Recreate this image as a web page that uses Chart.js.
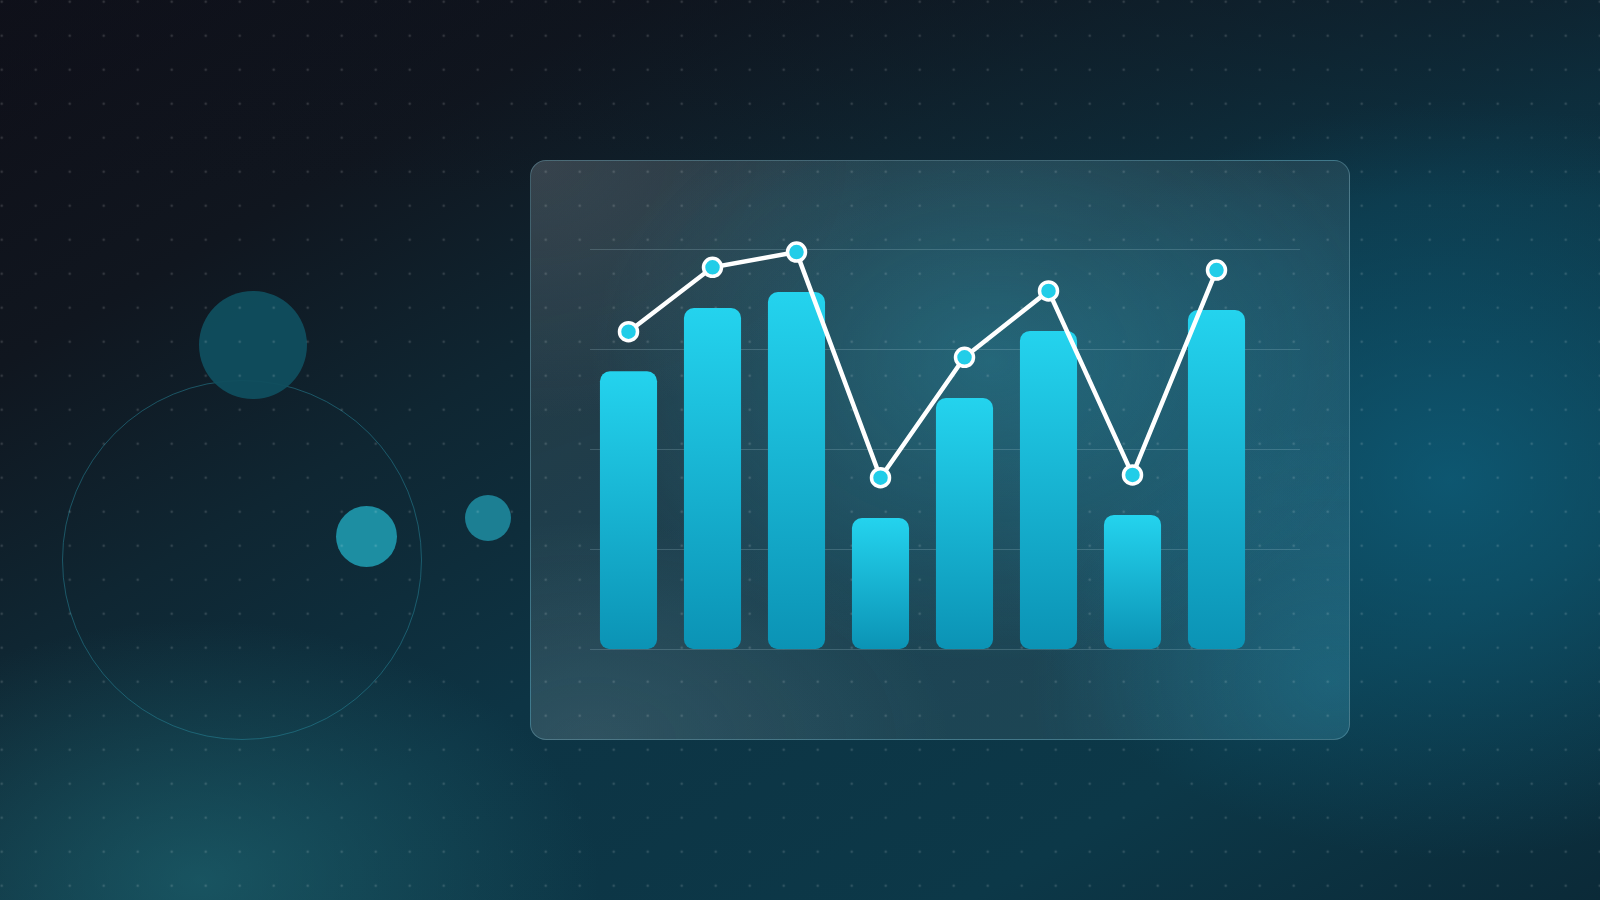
<!DOCTYPE html>
<html>
<head>
<meta charset="utf-8">
<script src="https://cdn.jsdelivr.net/npm/chart.js@4.4.1/dist/chart.umd.min.js"></script>
<style>
    html, body {
        margin: 0;
        padding: 0;
        width: 1600px;
        height: 900px;
        overflow: hidden;
    }
    body {
        position: relative;
        background:
            radial-gradient(ellipse 400px 260px at 200px 880px, rgba(34, 110, 120, 0.55), transparent 100%),
            linear-gradient(180deg, rgba(14, 18, 28, 0.4) 0%, rgba(14, 18, 28, 0) 22%),
            radial-gradient(ellipse 460px 380px at 1450px 480px, rgba(14, 100, 130, 0.7), transparent 100%),
            linear-gradient(150deg, #0f0f18 0%, #10161f 20%, #0f2632 36%, #0d3444 55%, #0c3848 80%, #0b2a38 100%);
    }
    .ring {
        position: absolute;
        left: 61.5px;
        top: 380px;
        width: 360px;
        height: 360px;
        border-radius: 50%;
        border: 1.5px solid rgba(40, 140, 160, 0.5);
        box-sizing: border-box;
    }
    .blob {
        position: absolute;
        border-radius: 50%;
    }
    .card {
        position: absolute;
        left: 530px;
        top: 160px;
        width: 820px;
        height: 580px;
        box-sizing: border-box;
        border-radius: 16px;
        border: 1.5px solid rgba(130, 190, 205, 0.35);
        background:
            radial-gradient(ellipse 400px 300px at 460px 200px, rgba(45, 155, 180, 0.42), transparent 100%),
            radial-gradient(ellipse 300px 260px at 800px 520px, rgba(30, 130, 160, 0.35), transparent 100%),
            radial-gradient(ellipse 360px 260px at 0px 0px, rgba(160, 165, 170, 0.14), transparent 100%),
            radial-gradient(ellipse 360px 220px at 60px 580px, rgba(160, 175, 180, 0.14), transparent 100%),
            linear-gradient(160deg, rgba(140, 160, 170, 0.18) 0%, rgba(120, 150, 160, 0.15) 60%, rgba(120, 150, 160, 0.16) 100%);
    }
    .dots {
        position: absolute;
        left: 0;
        top: 0;
        width: 1600px;
        height: 900px;
        background-image: radial-gradient(circle, rgba(255, 255, 255, 0.14) 1.1px, transparent 1.7px);
        background-size: 34px 34px;
        background-position: -15.3px -15.3px;
    }
    #chart {
        position: absolute;
        left: 0;
        top: 0;
    }
</style>
</head>
<body>
<div class="ring"></div>
<div class="blob" style="left:199px;top:291px;width:108px;height:108px;background:rgba(16,78,94,0.95);"></div>
<div class="blob" style="left:336px;top:506px;width:61px;height:61px;background:#1d8ea2;"></div>
<div class="blob" style="left:465px;top:495px;width:46px;height:46px;background:#1c7f93;"></div>
<div class="card"></div>
<div class="dots"></div>
<canvas id="chart" width="1600" height="900"></canvas>
<script>
// Data
const labels = ['1', '2', '3', '4', '5', '6', '7', '8'];
const barValues = [69.5, 85.3, 89.3, 32.8, 62.8, 79.6, 33.6, 84.8];
const lineValues = [79.4, 95.5, 99.3, 42.9, 73.0, 89.6, 43.6, 94.8];
const gridValues = [0, 25, 50, 75, 100];

const barTop = '#24d3ee';
const barBottom = '#0b93b5';

// Horizontal guide lines, slightly wider than the plot itself
const gridPlugin = {
    id: 'guideLines',
    beforeDatasetsDraw(chart) {
        const { ctx, chartArea, scales } = chart;
        const left = chartArea.left + 3.5;
        const right = chartArea.right + 41.5;
        ctx.save();
        ctx.strokeStyle = 'rgba(190, 225, 235, 0.2)';
        ctx.lineWidth = 1;
        gridValues.forEach(v => {
            const y = Math.round(scales.y.getPixelForValue(v)) + 0.5;
            ctx.beginPath();
            ctx.moveTo(left, y);
            ctx.lineTo(right, y);
            ctx.stroke();
        });
        ctx.restore();
    }
};

const barFill = function(context) {
    const chart = context.chart;
    if (!chart.chartArea) return barTop;
    const y = chart.scales.y;
    const top = y.getPixelForValue(context.raw);
    const base = y.getPixelForValue(0);
    const g = chart.ctx.createLinearGradient(0, top, 0, base);
    g.addColorStop(0, barTop);
    g.addColorStop(1, barBottom);
    return g;
};

new Chart(document.getElementById('chart'), {
    data: {
        labels: labels,
        datasets: [
            {
                type: 'line',
                data: lineValues,
                borderColor: '#ffffff',
                borderWidth: 4.5,
                tension: 0,
                pointRadius: 9,
                pointBorderWidth: 3.5,
                pointBackgroundColor: '#22cde8',
                pointBorderColor: '#ffffff',
                clip: false,
                order: 0
            },
            {
                type: 'bar',
                data: barValues,
                backgroundColor: barFill,
                borderRadius: 10,
                borderSkipped: false,
                categoryPercentage: 1,
                barPercentage: 0.68,
                order: 1
            }
        ]
    },
    options: {
        responsive: false,
        animation: false,
        layout: {
            padding: { left: 586.5, right: 341.5, top: 249.3, bottom: 250.7 }
        },
        scales: {
            x: { display: false, offset: true },
            y: { display: false, min: 0, max: 100 }
        },
        plugins: {
            legend: { display: false },
            tooltip: { enabled: false }
        }
    },
    plugins: [gridPlugin]
});
</script>
</body>
</html>
